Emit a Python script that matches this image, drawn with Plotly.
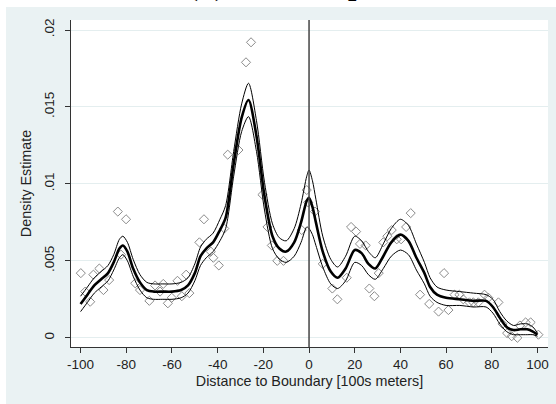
import plotly.graph_objects as go

# ---- data ----
grid_x = [-100, -97, -94, -91, -88, -85.5, -83, -81.5, -79.5, -77, -74, -71, -68, -64, -60, -56, -53,
          -50, -47.5, -45, -42, -39, -36.5, -33, -29.5, -26.5, -23, -19.5, -16, -13, -10, -6.5, -3.5,
          -1, 0, 1.5, 3, 6, 9.5, 12.5, 16, 20, 23, 26, 29, 32.5, 36, 40, 43.5, 47, 50.5, 53, 56, 60,
          66, 72, 77.5, 80.5, 83.5, 86.5, 89.5, 92.5, 95.5, 98, 100]
density = [.0022, .0028, .0034, .0038, .0042, .0049, .0058, .0060, .0056, .0045, .0036, .0031, .0030,
           .0030, .0030, .0031, .0034, .0042, .0053, .0058, .0062, .0070, .0078, .0113, .0143, .01545,
           .0131, .0092, .0066, .0058, .0056, .0062, .0075, .0089, .0091, .0085, .0075, .0056, .0043,
           .0039, .0045, .0057, .0055, .0048, .0045, .0053, .0062, .0067, .0063, .0052, .0042, .0033,
           .0028, .0026, .0025, .0024, .0024, .0020, .0013, .0007, .0005, .00055, .00055, .0004, .0002]
upper = [.0027, .0033, .0039, .0043, .0047, .0054, .0064, .0066, .0062, .0051, .0041, .0036, .0035,
         .0035, .0035, .0036, .0039, .0048, .0059, .0064, .0068, .0077, .0086, .0121, .0152, .01654,
         .0141, .0101, .0074, .0065, .0063, .0071, .0087, .0105, .0109, .0102, .0090, .0066, .0051,
         .0046, .0053, .0066, .0063, .0056, .0052, .0061, .0071, .0077, .0073, .0061, .0049, .0039,
         .0033, .0031, .0030, .0029, .0028, .0025, .0017, .0011, .0008, .0009, .0009, .0007, .0003]
lower = [.0017, .0023, .0029, .0033, .0037, .0044, .0052, .0054, .0050, .0040, .0031, .0026, .0025,
         .0025, .0025, .0026, .0029, .0037, .0047, .0052, .0056, .0063, .0071, .0105, .0134, .01437,
         .0121, .0083, .0058, .0051, .0049, .0053, .0062, .0072, .0071, .0067, .0060, .0046, .0035,
         .0032, .0037, .0049, .0047, .0041, .0038, .0045, .0053, .0057, .0054, .0044, .0035, .0027,
         .0023, .0021, .0021, .0020, .0020, .0016, .0009, .0004, .0002, .0002, .0002, .0002, .0001]

bin_x = [-99.9, -98, -95.8, -94.4, -91.8, -90, -87.5, -83.7, -82.3, -80.1, -76.1, -74, -69.9, -67.4,
         -65.2, -63.8, -61.8, -60.1, -57.6, -55.7, -53.8, -52.4, -48, -46, -43, -41.9, -39.5, -37.1,
         -35.6, -30.9, -27.6, -25.4, -20.4, -18.2, -16.3, -13.9, -11.2, -3.2, -1, -0.4, 2.6, 6, 10.2,
         12.4, 16.5, 18.4, 20.6, 22.3, 24.8, 26.4, 28.6, 30.5, 32.5, 34.3, 36.2, 38.4, 40.3, 42.5, 44.5,
         48.6, 52.6, 56.7, 59.1, 61, 63.7, 65.8, 67.5, 70.2, 71.9, 74.1, 76.8, 78.5, 82.9, 84.7, 86.7,
         88.7, 91.2, 92.3, 94.8, 97, 100.4]
bin_density = [.0042, .0030, .00234, .0041, .0045, .0031, .00375, .0082, .0054, .0077, .00354, .0031,
               .0024, .0034, .0030, .0035, .00224, .0026, .0037, .0027, .0041, .0029, .0062, .0077,
               .0056, .0052, .0047, .0071, .0119, .0122, .0179, .0192, .0093, .0072, .0060, .0050,
               .0050, .0070, .0096, .0088, .0082, .0048, .0032, .0025, .0039, .0072, .0069, .0061,
               .0060, .0032, .0027, .0042, .0062, .0066, .0070, .0064, .0064, .0072, .0081, .0028,
               .0022, .0017, .0042, .0018, .0028, .0028, .0025, .0023, .0023, .0023, .0028, .0026,
               .0023, .0009, .0003, .0001, .0000, .0008, .0010, .0010, .0002]

x_ticks = [-100, -80, -60, -40, -20, 0, 20, 40, 60, 80, 100]
x_tick_text = ["-100", "-80", "-60", "-40", "-20", "0", "20", "40", "60", "80", "100"]
y_ticks = [0, .005, .01, .015, .02]
y_tick_text = ["0", ".005", ".01", ".015", ".02"]

BG = "#EAF2F3"
W, H = 556, 404
ML, MR, MT, MB = 71, 8, 20, 57
PW, PH = W - ML - MR, H - MT - MB


def px_x(p):
    return (p - ML) / PW


def px_y(p):
    return (H - MB - p) / PH


fig = go.Figure()
fig.add_trace(go.Scatter(x=bin_x, y=bin_density, mode="markers",
                         marker=dict(symbol="diamond-open", size=7, color="#8a8a8a",
                                     line=dict(width=1, color="#8a8a8a")),
                         hoverinfo="skip", showlegend=False))
for ser, w in ((upper, 1), (lower, 1), (density, 2.6)):
    fig.add_trace(go.Scatter(x=grid_x, y=ser, mode="lines",
                             line=dict(color="black", width=w, shape="spline", smoothing=0.8),
                             hoverinfo="skip", showlegend=False))

fig.add_shape(type="line", xref="x", yref="paper", x0=0, x1=0, y0=0, y1=1,
              line=dict(color="#444444", width=1.5))
# white strips outside the graph region
fig.add_shape(type="rect", xref="paper", yref="paper", x0=px_x(0), x1=px_x(W), y0=px_y(7), y1=px_y(0),
              fillcolor="white", line=dict(width=0), layer="below")
fig.add_shape(type="rect", xref="paper", yref="paper", x0=px_x(0), x1=px_x(6), y0=px_y(H), y1=px_y(0),
              fillcolor="white", line=dict(width=0), layer="below")

fig.add_annotation(text="<b>(b) Full Sample</b>", xref="paper", yref="paper",
                   x=px_x(287), y=px_y(4), xanchor="center", yanchor="bottom", showarrow=False,
                   font=dict(family="Liberation Serif", size=30, color="black"))

fig.update_layout(
    width=W, height=H, margin=dict(l=ML, r=MR, t=MT, b=MB),
    paper_bgcolor=BG, plot_bgcolor="white",
    font=dict(family="Liberation Sans", color="#222222"),
    showlegend=False,
)
fig.update_xaxes(range=[-104.2, 104.6], tickvals=x_ticks, ticktext=x_tick_text, ticks="outside", ticklen=5,
                 tickcolor="#333333", showline=True, linecolor="#333333", linewidth=1,
                 showgrid=False, zeroline=False, tickfont=dict(size=13.5),
                 title=dict(text="Distance to Boundary [100s meters]", font=dict(size=14.3), standoff=4))
fig.update_yaxes(range=[-0.0006, 0.02065], tickvals=y_ticks, ticktext=y_tick_text, tickangle=-90,
                 ticks="outside", ticklen=5, tickcolor="#333333", showline=True, linecolor="#333333",
                 linewidth=1, showgrid=True, gridcolor="#E4EEEF", gridwidth=1, zeroline=False,
                 tickfont=dict(size=13.5), ticklabelstandoff=6,
                 title=dict(text="Density Estimate", font=dict(size=14.3), standoff=6))

fig.write_html("out.html")
